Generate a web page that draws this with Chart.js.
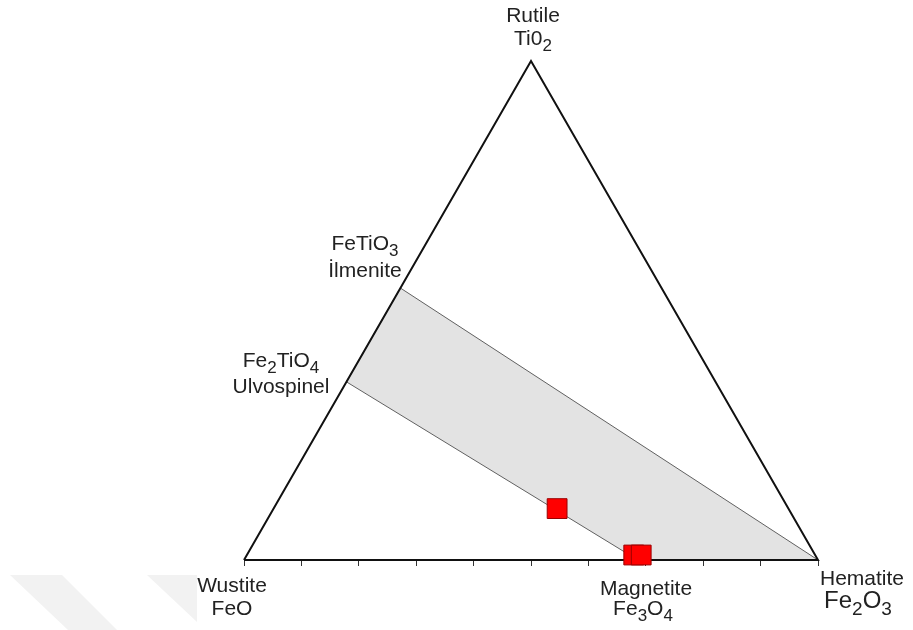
<!DOCTYPE html>
<html>
<head>
<meta charset="utf-8">
<script src="https://cdn.jsdelivr.net/npm/chart.js@4.4.0/dist/chart.umd.min.js"></script>
<style>
  body { margin: 0; background: #fff; }
</style>
</head>
<body>
<canvas id="ternario" width="913" height="630"></canvas>
<script>
// fracoes: TiO2 (vertice de cima) e Fe2O3 (vertice da direita), o resto e FeO
const endTiO2 = [0, 0, 1, 0];      // Wustite, Hematite, Rutile, Wustite (fecha)
const endFe2O3 = [0, 1, 0, 0];

// faixa cinza: Ilmenite -> Hematite -> Magnetite -> Ulvospinel
const bandTiO2 = [0.545, 0, 0, 0.357, 0.545];
const bandFe2O3 = [0, 1, 0.686, 0, 0];

// amostras (quadrados vermelhos)
const sampleTiO2 = [0.103, 0.010, 0.010];
const sampleFe2O3 = [0.494, 0.674, 0.687];

// marcas no lado de baixo
const baseTicks = [0, 0.1, 0.2, 0.3, 0.4, 0.5, 0.6, 0.7, 0.8, 0.9, 1];

const H = Math.sqrt(3) / 2;

// converte composicao ternaria para x,y do grafico
function toXY(t, f) {
  return { x: f + t / 2, y: t * H };
}
function pontos(tArr, fArr) {
  return tArr.map((t, i) => toXY(t, fArr[i]));
}

const FONTE = "Arial, 'Liberation Sans', sans-serif";

// texto com subscrito: [["Fe",0],["2",1],...]
function drawRich(ctx, parts, cx, baseY, size) {
  const sub = Math.round(size * 0.8);
  let width = 0;
  parts.forEach(p => {
    ctx.font = (p[1] ? sub : size) + "px " + FONTE;
    width += ctx.measureText(p[0]).width;
  });
  let x = cx - width / 2;
  parts.forEach(p => {
    ctx.font = (p[1] ? sub : size) + "px " + FONTE;
    ctx.fillText(p[0], x, p[1] ? baseY + size * 0.3 : baseY);
    x += ctx.measureText(p[0]).width;
  });
}

const rotulos = {
  id: "rotulos",
  beforeDraw(chart) {
    // faixas claras no canto de baixo (fundo da imagem original)
    const ctx = chart.ctx;
    ctx.save();
    ctx.fillStyle = "#f2f2f2";
    ctx.beginPath();
    ctx.moveTo(10, 575); ctx.lineTo(62, 575); ctx.lineTo(117, 630); ctx.lineTo(68, 630);
    ctx.closePath(); ctx.fill();
    ctx.beginPath();
    ctx.moveTo(147, 575); ctx.lineTo(197, 575); ctx.lineTo(197, 622);
    ctx.closePath(); ctx.fill();
    ctx.restore();
  },
  afterDraw(chart) {
    const ctx = chart.ctx;
    ctx.save();
    ctx.fillStyle = "#222";
    ctx.textBaseline = "alphabetic";
    const s = 21;
    drawRich(ctx, [["Rutile", 0]], 533, 22, s);
    drawRich(ctx, [["Ti0", 0], ["2", 1]], 533, 45, s);
    drawRich(ctx, [["FeTiO", 0], ["3", 1]], 365, 250, s);
    drawRich(ctx, [["İlmenite", 0]], 365, 277, s);
    drawRich(ctx, [["Fe", 0], ["2", 1], ["TiO", 0], ["4", 1]], 281, 367, s);
    drawRich(ctx, [["Ulvospinel", 0]], 281, 393, s);
    drawRich(ctx, [["Wustite", 0]], 232, 592, s);
    drawRich(ctx, [["FeO", 0]], 232, 615, s);
    drawRich(ctx, [["Magnetite", 0]], 646, 595, s);
    drawRich(ctx, [["Fe", 0], ["3", 1], ["O", 0], ["4", 1]], 643, 615, s);
    drawRich(ctx, [["Hematite", 0]], 862, 585, s);
    drawRich(ctx, [["Fe", 0], ["2", 1], ["O", 0], ["3", 1]], 858, 608, 24);
    ctx.restore();
  }
};

new Chart(document.getElementById("ternario"), {
  type: "scatter",
  data: {
    datasets: [
      {
        label: "Amostras",
        data: pontos(sampleTiO2, sampleFe2O3),
        pointStyle: "rect",
        pointRadius: 14,
        backgroundColor: "#ff0000",
        borderColor: "#9a0000",
        borderWidth: 1,
        clip: false
      },
      {
        label: "Triangulo",
        data: pontos(endTiO2, endFe2O3),
        showLine: true,
        borderColor: "#111",
        borderWidth: 2,
        pointRadius: 0,
        tension: 0,
        clip: false
      },
      {
        label: "Faixa",
        data: pontos(bandTiO2, bandFe2O3),
        showLine: true,
        fill: "shape",
        backgroundColor: "#e3e3e3",
        borderColor: "#606060",
        borderWidth: 1,
        pointRadius: 0,
        tension: 0,
        clip: false
      }
    ]
  },
  options: {
    responsive: false,
    animation: false,
    events: [],
    layout: { padding: { left: 244, right: 95, top: 61, bottom: 64 } },
    scales: {
      x: {
        type: "linear",
        min: 0,
        max: 1,
        afterBuildTicks: axis => { axis.ticks = baseTicks.map(v => ({ value: v })); },
        ticks: { display: false },
        grid: { drawOnChartArea: false, tickLength: 6, color: "#333", lineWidth: 1 },
        border: { display: false }
      },
      y: { type: "linear", min: 0, max: H, display: false }
    },
    plugins: {
      legend: { display: false },
      tooltip: { enabled: false }
    }
  },
  plugins: [rotulos]
});
</script>
</body>
</html>
